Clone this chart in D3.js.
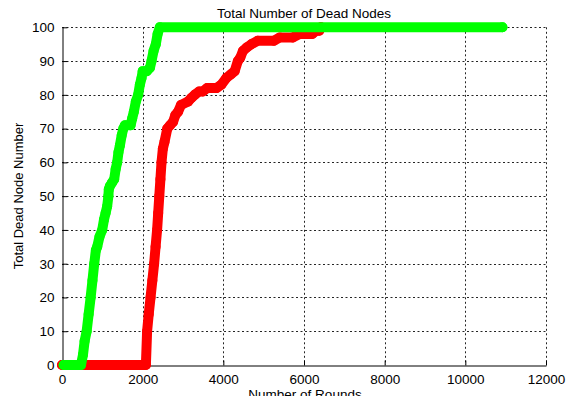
<!DOCTYPE html>
<html>
<head>
<meta charset="utf-8">
<script src="https://cdn.jsdelivr.net/npm/d3@7"></script>
<style>
  html, body { margin: 0; padding: 0; background: #fff; }
  svg { display: block; }
  text { font-family: "Liberation Sans", Arial, sans-serif; fill: #000; }
</style>
</head>
<body>
<svg id="chart" width="566" height="402"></svg>
<script>
// ---- data ----
const title = "Total Number of Dead Nodes";
const xLabel = "Number of Rounds";
const yLabel = "Total Dead Node Number";
const xTicks = [0, 2000, 4000, 6000, 8000, 10000, 12000];
const yTicks = [0, 10, 20, 30, 40, 50, 60, 70, 80, 90, 100];

// red series: [round, dead nodes]
const redRounds = [0, 2080, 2110, 2150, 2195, 2240, 2284, 2320, 2358, 2385, 2412, 2440, 2467, 2500, 2540, 2610, 2680, 2754, 2810, 2878, 2950, 3125, 3200, 3290, 3400, 3490, 3600, 3830, 3950, 4075, 4180, 4280, 4360, 4420, 4485, 4580, 4695, 4850, 5250, 5400, 5720, 5890, 6200, 6300, 6380, 6420];
const redDead   = [0,    0,   10,   15,   20,   25,   30,   35,   40,   45,   50,   55,   60,   64,   66,   70,   71,   72,   74,   75,   77,   78,   79,   80,   81,   81,   82,   82,   83,   85,   86,   87,   90,   91,   93,   94,   95,   96,   96,   97,   97,   98,   98,   99,   99,  100];

// green series: [round, dead nodes]
const greenRounds = [40, 470, 520, 560, 611, 660, 710, 755, 799, 840, 873, 930, 997, 1040, 1081, 1120, 1150, 1160, 1188, 1240, 1294, 1330, 1368, 1400, 1435, 1480, 1520, 1560, 1700, 1740, 1781, 1830, 1888, 1930, 1972, 2000, 2100, 2180, 2219, 2270, 2326, 2370, 2425, 10920];
const greenDead   = [0,    0,   3,   7,  10,  15,  20,  25,  30,  34,  35,  38,  40,   43,   45,   47,   50,   52,   53,   54,   55,   58,   60,   63,   65,   68,   70,   71,   71,   73,   75,   78,   80,   83,   85,   87,   87,   88,   90,   93,   95,   98,  100,   100];

// ---- drawing ----
const svg = d3.select("#chart");
const x = d3.scaleLinear().domain([0, 12000]).range([62, 546]);
const y = d3.scaleLinear().domain([0, 100]).range([365, 27.3]);

// grid (dotted)
const grid = svg.append("g").attr("stroke", "#000").attr("stroke-width", 1)
  .attr("stroke-dasharray", "2,2.5").attr("opacity", 0.85);
grid.selectAll("line.vx").data(xTicks.filter(d => d > 0)).join("line")
  .attr("x1", d => Math.round(x(d)) + 0.5).attr("x2", d => Math.round(x(d)) + 0.5)
  .attr("y1", y(100)).attr("y2", y(0));
grid.selectAll("line.hy").data(yTicks.filter(d => d > 0)).join("line")
  .attr("y1", d => Math.round(y(d)) + 0.5).attr("y2", d => Math.round(y(d)) + 0.5)
  .attr("x1", x(0)).attr("x2", x(12000));

// axes
const xAxis = d3.axisBottom(x).tickValues(xTicks).tickSizeInner(-5).tickSizeOuter(0).tickPadding(9).tickFormat(d3.format("d"));
const yAxis = d3.axisLeft(y).tickValues(yTicks).tickSizeInner(-5).tickSizeOuter(0).tickPadding(8);

const gx = svg.append("g").attr("transform", `translate(0,${Math.round(y(0)) + 0.5})`).call(xAxis);
const gy = svg.append("g").attr("transform", `translate(${Math.round(x(0)) + 0.5},0)`).call(yAxis);
[gx, gy].forEach(g => {
  g.select(".domain").attr("stroke", "#000").attr("stroke-width", 1);
  g.selectAll(".tick line").attr("stroke", "#000");
  g.selectAll(".tick text").style("font-family", "'Liberation Sans', Arial, sans-serif")
    .style("font-size", "13.5px").attr("fill", "#000");
});
gx.selectAll(".tick text").attr("dy", "0.71em");

// series as thick marker bands
const line = d3.line().x(d => x(d[0])).y(d => y(d[1]));
function drawSeries(rounds, dead, color) {
  const pts = rounds.map((r, i) => [r, dead[i]]);
  svg.append("path").datum(pts).attr("d", line)
    .attr("fill", "none").attr("stroke", color).attr("stroke-width", 10)
    .attr("stroke-linecap", "round").attr("stroke-linejoin", "round");
  svg.append("g").selectAll("circle").data(pts).join("circle")
    .attr("cx", d => x(d[0])).attr("cy", d => y(d[1])).attr("r", 4)
    .attr("fill", "none").attr("stroke", color).attr("stroke-width", 2);
}
drawSeries(redRounds, redDead, "#ff0000");
drawSeries(greenRounds, greenDead, "#00ff00");

// title & labels
svg.append("text").attr("x", 304).attr("y", 17.5).attr("text-anchor", "middle")
  .style("font-size", "13.5px").text(title);
svg.append("text").attr("transform", `translate(22.5,196) rotate(-90)`).attr("text-anchor", "middle")
  .style("font-size", "13px").text(yLabel);
svg.append("text").attr("x", 305).attr("y", 398.5).attr("text-anchor", "middle")
  .style("font-size", "13.5px").text(xLabel);

// the reference image is cropped just below the x label
svg.append("rect").attr("x", 0).attr("y", 396).attr("width", 566).attr("height", 6).attr("fill", "#fff");
</script>
</body>
</html>
